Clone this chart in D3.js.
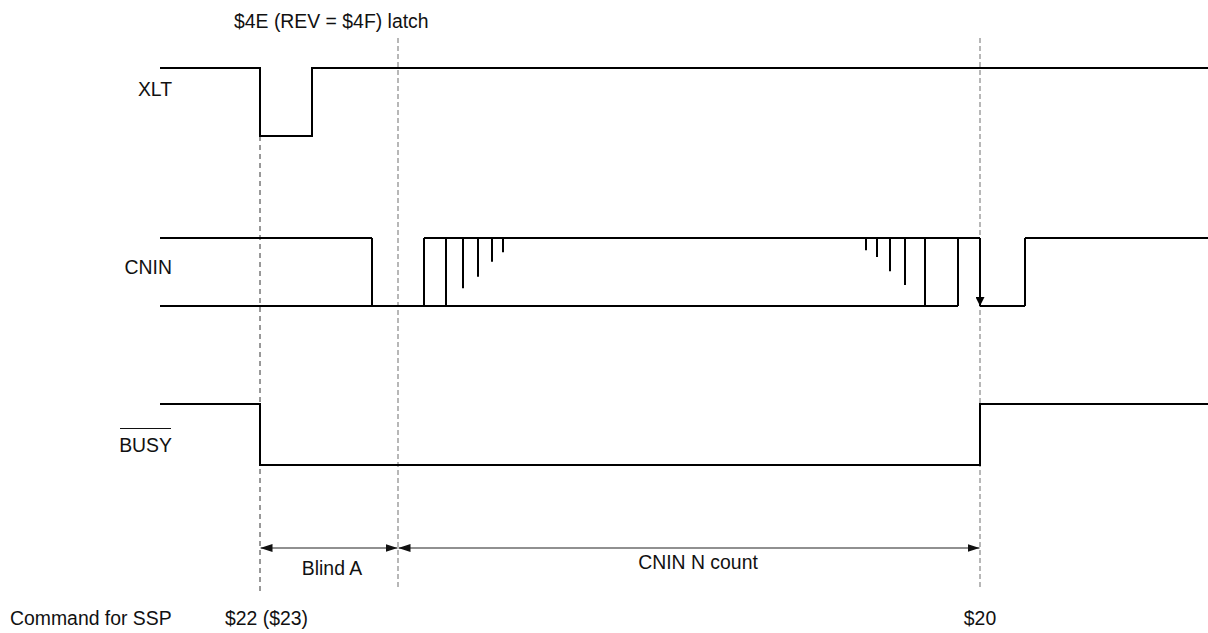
<!DOCTYPE html>
<html><head><meta charset="utf-8">
<script src="https://cdn.jsdelivr.net/npm/d3@7"></script>
<style>
html,body{margin:0;padding:0;background:#fff;}
svg text{font-family:"Liberation Sans",Arial,Helvetica,sans-serif;font-size:19.4px;fill:#111;}
</style></head>
<body>
<svg id="chart" width="1208" height="633"></svg>
<script>
// ---- data (time units) ----
const signalNames = ["XLT", "CNIN", "BUSY"];
const xltSteps = [[0, 1], [100, 0], [152, 1]];
const busySteps = [[0, 1], [100, 0], [820, 1]];
const cninHighSegments = [[0, 212], [264, 820], [865, 1048]];
const cninLowSegments = [[0, 798], [820, 865]];
const cninFullEdges = [212, 264, 286, 765, 798, 865];
const cninPulseTimes = [303, 318, 332, 343, 706, 717, 730, 745];
const cninPulseDepths = [0.74, 0.57, 0.35, 0.21, 0.18, 0.28, 0.49, 0.69];
const cninArrowTime = 820;
const markerTimes = [100, 238, 820];
const spanStarts = [100, 238];
const spanEnds = [238, 820];
const spanLabels = ["Blind A", "CNIN N count"];
const commandTimes = [100, 820];
const commandLabels = ["$22 ($23)", "$20"];
const latchLabel = "$4E (REV = $4F) latch";
const endTime = 1048;

// ---- layout ----
const svg = d3.select("#chart");
const x = d3.scaleLinear().domain([0, endTime]).range([160, 1208]);
const rowHigh = [68, 238, 404];
const rowLow = [136, 306, 465];
const yRow = i => d3.scaleLinear().domain([0, 1]).range([rowLow[i], rowHigh[i]]);

const defs = svg.append("defs");
defs.append("marker").attr("id", "ah").attr("viewBox", "0 0 12 8")
  .attr("refX", 12).attr("refY", 4).attr("markerWidth", 12).attr("markerHeight", 8)
  .attr("markerUnits", "userSpaceOnUse").attr("orient", "auto-start-reverse")
  .append("path").attr("d", "M0,0L12,4L0,8Z").attr("fill", "#111");
defs.append("marker").attr("id", "ah2").attr("viewBox", "0 0 9 9")
  .attr("refX", 9).attr("refY", 4.5).attr("markerWidth", 9).attr("markerHeight", 9)
  .attr("markerUnits", "userSpaceOnUse").attr("orient", "auto")
  .append("path").attr("d", "M0,0L9,4.5L0,9Z").attr("fill", "#000");

// marker (dashed) lines
const dashTop = [136, 38, 38];
const dashBottom = [592, 587, 587];
svg.selectAll("line.mark").data(markerTimes).join("line")
  .attr("class", "mark")
  .attr("x1", d => x(d)).attr("x2", d => x(d))
  .attr("y1", (d, i) => dashTop[i]).attr("y2", (d, i) => dashBottom[i])
  .attr("stroke", (d, i) => i === 0 ? "#333" : "#a0a0a0")
  .attr("stroke-width", (d, i) => i === 0 ? 1 : 1.5)
  .attr("stroke-dasharray", (d, i) => i === 0 ? "5,4" : "5,3");

// step signals
const stepLine = (steps, i) => {
  const pts = steps.concat([[endTime, steps[steps.length - 1][1]]]);
  return d3.line().x(d => x(d[0])).y(d => yRow(i)(d[1])).curve(d3.curveStepAfter)(pts);
};
const sig = svg.append("g").attr("fill", "none").attr("stroke", "#000").attr("stroke-width", 2);
sig.append("path").attr("d", stepLine(xltSteps, 0));
sig.append("path").attr("d", stepLine(busySteps, 2));

// CNIN
const yc = yRow(1);
sig.selectAll("line.hi").data(cninHighSegments).join("line")
  .attr("x1", d => x(d[0])).attr("x2", d => x(d[1])).attr("y1", yc(1)).attr("y2", yc(1));
sig.selectAll("line.lo").data(cninLowSegments).join("line")
  .attr("x1", d => x(d[0])).attr("x2", d => x(d[1])).attr("y1", yc(0)).attr("y2", yc(0));
sig.selectAll("line.edge").data(cninFullEdges).join("line")
  .attr("x1", d => x(d)).attr("x2", d => x(d)).attr("y1", yc(1)).attr("y2", yc(0));
sig.selectAll("line.pulse").data(cninPulseTimes).join("line")
  .attr("x1", d => x(d)).attr("x2", d => x(d)).attr("y1", yc(1))
  .attr("y2", (d, i) => yc(1 - cninPulseDepths[i]));
sig.append("line").attr("x1", x(cninArrowTime)).attr("x2", x(cninArrowTime))
  .attr("y1", yc(1)).attr("y2", yc(0)).attr("marker-end", "url(#ah2)");

// signal labels
const lblBase = [96, 274, 452];
svg.selectAll("text.sig").data(signalNames).join("text")
  .attr("x", 172).attr("y", (d, i) => lblBase[i]).attr("text-anchor", "end").text(d => d);
// overline on BUSY
svg.append("line").attr("x1", 120).attr("x2", 171).attr("y1", 428.5).attr("y2", 428.5)
  .attr("stroke", "#111").attr("stroke-width", 1);

// span arrows
svg.selectAll("line.span").data(spanStarts).join("line")
  .attr("x1", d => x(d) + 0.5).attr("x2", (d, i) => x(spanEnds[i]) - 0.5)
  .attr("y1", 548).attr("y2", 548).attr("stroke", "#222").attr("stroke-width", 1.2)
  .attr("marker-start", "url(#ah)").attr("marker-end", "url(#ah)");
const spanBase = [575, 569];
svg.selectAll("text.span").data(spanLabels).join("text")
  .attr("x", (d, i) => (x(spanStarts[i]) + x(spanEnds[i])) / 2 + (i === 0 ? 3 : 9))
  .attr("y", (d, i) => spanBase[i]).attr("text-anchor", "middle").text(d => d);

// commands
svg.append("text").attr("x", 10).attr("y", 625).text("Command for SSP");
svg.selectAll("text.cmd").data(commandLabels).join("text")
  .attr("x", (d, i) => i === 0 ? x(commandTimes[i]) - 35 : x(commandTimes[i]))
  .attr("y", 625).attr("text-anchor", (d, i) => i === 0 ? "start" : "middle").text(d => d);

// latch label
svg.append("text").attr("x", 234).attr("y", 28).text(latchLabel);
</script>
</body></html>
